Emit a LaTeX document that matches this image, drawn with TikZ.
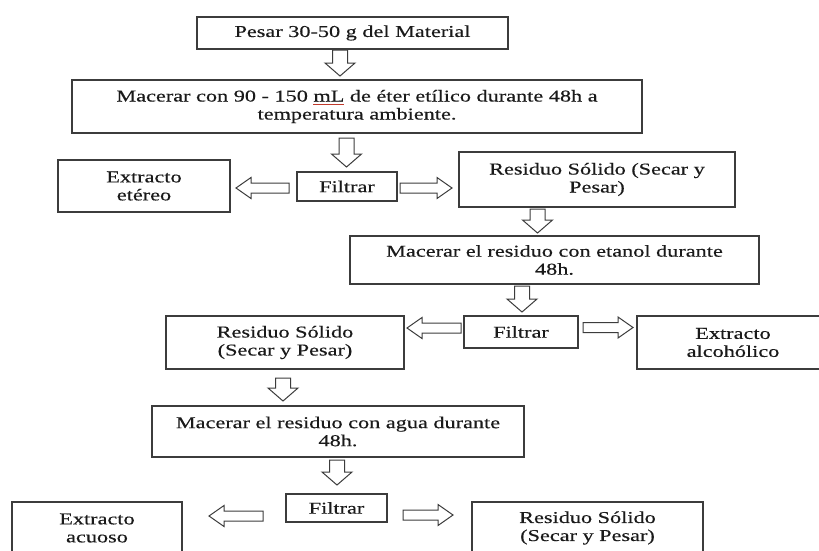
\documentclass[tikz,border=0pt]{standalone}
\usepackage{fontspec}
\setmainfont{Liberation Serif}[FakeStretch=1.34,FakeBold=0.3]
\usetikzlibrary{calc}

\definecolor{ink}{HTML}{1A1A1A}
\definecolor{frame}{HTML}{3C3C3C}
\definecolor{squig}{HTML}{C0392B}

\newcommand\flowfont{\fontsize{16.6}{18}\selectfont}
% word with a thin red underline
\newcommand\spellmark[1]{\setbox0\hbox{#1}%
  \rlap{\textcolor{squig}{\rule[-3pt]{\wd0}{0.8pt}}}\box0\relax}

\begin{document}
\begin{tikzpicture}[x=1pt,y=1pt,
  box/.style={draw=frame,line width=1.1pt,fill=white,inner sep=0pt,
              align=center,text=ink,font=\flowfont},
  blockarrow/.style={draw=frame,line width=1pt,fill=white,line join=miter},
  % hollow block arrow pointing down, top edge centred on the origin
  pics/darr/.style={code={
    \draw[blockarrow] (-7.5,0) -- (7.5,0) -- (7.5,{13-#1}) -- (15,{13-#1})
      -- (0,-#1) -- (-15,{13-#1}) -- (-7.5,{13-#1}) -- cycle;}},
  % hollow block arrow pointing along +x, tail centred on the origin
  pics/harr/.style={code={
    \draw[blockarrow] (0,5) -- ({#1-15},5) -- ({#1-15},10.5) -- (#1,0)
      -- ({#1-15},-10.5) -- ({#1-15},-5) -- (0,-5) -- cycle;}},
]
\useasboundingbox (0,0) rectangle (819,-550);
\clip (0,0) rectangle (819,-550);
\fill[white] (0,0) rectangle (819,-550);

% process boxes
\node[box,minimum width=311,minimum height=32] (pesar) at (352.5,-33)
  {Pesar 30-50 g del Material};
\node[box,minimum width=570,minimum height=53] (eter) at (357,-106.5)
  {Macerar con 90 - 150 \spellmark{mL} de éter etílico durante 48h a\\temperatura ambiente.};
\node[box,minimum width=172,minimum height=52] (etereo) at (144,-186)
  {Extracto\\etéreo};
\node[box,minimum width=100,minimum height=29] (filA) at (347,-186.5)
  {Filtrar};
\node[box,minimum width=276,minimum height=55] (resA) at (597,-179.5)
  {Residuo Sólido (Secar y\\Pesar)};
\node[box,minimum width=409,minimum height=48] (etanol) at (554.5,-260)
  {Macerar el residuo con etanol durante\\48h.};
\node[box,minimum width=114,minimum height=32] (filB) at (521,-332)
  {Filtrar};
\node[box,minimum width=238,minimum height=53] (resB) at (285,-342.5)
  {Residuo Sólido\\(Secar y Pesar)};
\node[box,minimum width=192,minimum height=53] (alcohol) at (733,-342.5)
  {Extracto\\alcohólico};
\node[box,minimum width=372,minimum height=51] (agua) at (338,-431.5)
  {Macerar el residuo con agua durante\\48h.};
\node[box,minimum width=101,minimum height=28] (filC) at (336.5,-508)
  {Filtrar};
\node[box,minimum width=170,minimum height=52] (acuoso) at (97,-528)
  {Extracto\\acuoso};
\node[box,minimum width=231,minimum height=52] (resC) at (587.5,-528)
  {Residuo Sólido\\(Secar y Pesar)};

% downward block arrows
\pic (d1) at (340,-50) {darr=26};
\pic (d2) at (346.5,-138) {darr=29};
\pic (d3) at (537.5,-209) {darr=24};
\pic (d4) at (522,-286) {darr=26};
\pic (d5) at (283,-378) {darr=23};
\pic (d6) at (337,-460) {darr=25};

% sideways block arrows out of each filtration
\pic[rotate=180] (l1) at (289,-188) {harr=53};
\pic (r1) at (400,-188) {harr=52};
\pic[rotate=180] (l2) at (461,-328) {harr=54};
\pic (r2) at (583,-327.5) {harr=50};
\pic[rotate=180] (l3) at (263,-516) {harr=54};
\pic (r3) at (403,-515) {harr=50};
\end{tikzpicture}
\end{document}
